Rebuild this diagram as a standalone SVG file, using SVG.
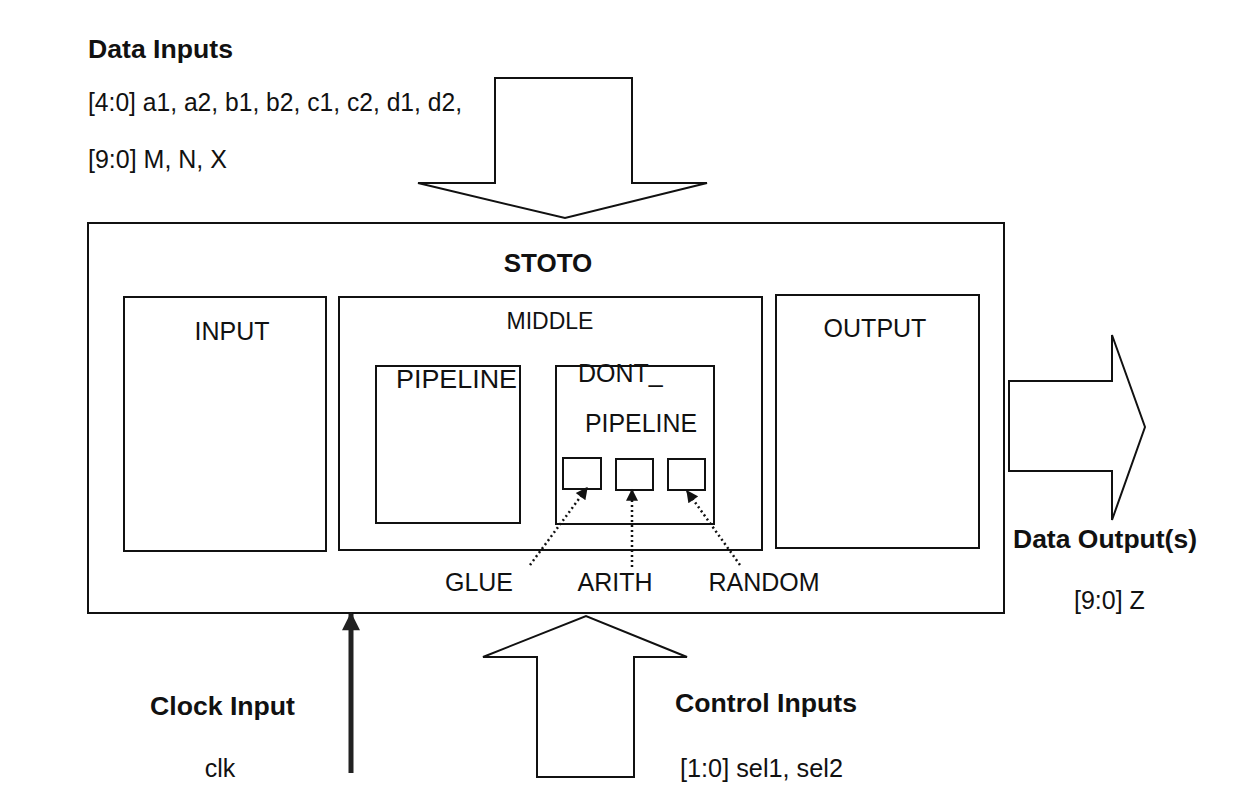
<svg xmlns="http://www.w3.org/2000/svg" width="1237" height="807" viewBox="0 0 1237 807">
<style>
.box{fill:none;stroke:#111;stroke-width:2}
.ar{fill:#fff;stroke:#111;stroke-width:2;stroke-linejoin:miter}
.t{font-family:"Liberation Sans",Arial,sans-serif;font-size:25px;fill:#111}
.b{font-weight:bold;font-size:26px}
.m{text-anchor:middle}
.dot{stroke:#111;stroke-width:2.5;stroke-dasharray:2 3;fill:none}
</style>
<defs>
<marker id="ah" viewBox="0 0 10 10" refX="9" refY="5" markerWidth="14" markerHeight="12" orient="auto" markerUnits="userSpaceOnUse">
<path d="M0,0 L10,5 L0,10 z" fill="#111"/>
</marker>
<marker id="ahd" viewBox="0 0 10 10" refX="9" refY="5" markerWidth="20" markerHeight="18" orient="auto" markerUnits="userSpaceOnUse">
<path d="M0,0 L10,5 L0,10 z" fill="#222"/>
</marker>
</defs>
<rect width="1237" height="807" fill="#fff"/>
<g id="labels">
<text class="t b" x="88" y="58" textLength="145" lengthAdjust="spacingAndGlyphs">Data Inputs</text>
<text class="t" x="88" y="111" textLength="374" lengthAdjust="spacingAndGlyphs">[4:0] a1, a2, b1, b2, c1, c2, d1, d2,</text>
<text class="t" x="88" y="168">[9:0] M, N, X</text>
<text class="t b" x="1013" y="548" textLength="184" lengthAdjust="spacingAndGlyphs">Data Output(s)</text>
<text class="t" x="1074" y="609">[9:0] Z</text>
<text class="t b" x="150" y="715" textLength="145" lengthAdjust="spacingAndGlyphs">Clock Input</text>
<text class="t m" x="220" y="777">clk</text>
<text class="t b" x="675" y="712" textLength="182" lengthAdjust="spacingAndGlyphs">Control Inputs</text>
<text class="t" x="680" y="777" textLength="163" lengthAdjust="spacingAndGlyphs">[1:0] sel1, sel2</text>
</g>
<g id="stoto">
<rect class="box" x="88" y="223" width="916" height="390"/>
<text class="t b m" x="548" y="272">STOTO</text>
</g>
<g id="input">
<rect class="box" x="124" y="297" width="202" height="254"/>
<text class="t m" x="232" y="340">INPUT</text>
</g>
<g id="middle">
<rect class="box" x="339" y="297" width="423" height="253"/>
<text class="t m" x="550" y="329" style="font-size:23px">MIDDLE</text>
</g>
<g id="pipeline">
<rect class="box" x="376" y="366" width="144" height="157"/>
<text class="t" x="396" y="388" textLength="121" lengthAdjust="spacingAndGlyphs">PIPELINE</text>
</g>
<g id="dont_pipeline">
<rect class="box" x="556" y="366" width="158" height="158"/>
<text class="t" x="578" y="382">DONT_</text>
<text class="t" x="585" y="432" textLength="112" lengthAdjust="spacingAndGlyphs">PIPELINE</text>
</g>
<g id="glue_box"><rect class="box" x="563" y="458" width="38" height="31"/></g>
<g id="arith_box"><rect class="box" x="616" y="459" width="37" height="31"/></g>
<g id="random_box"><rect class="box" x="668" y="459" width="37" height="31"/></g>
<g id="output">
<rect class="box" x="776" y="295" width="203" height="253"/>
<text class="t m" x="875" y="337">OUTPUT</text>
</g>
<g id="glue_label"><text class="t m" x="479" y="591">GLUE</text></g>
<g id="arith_label"><text class="t m" x="615" y="591">ARITH</text></g>
<g id="random_label"><text class="t m" x="764" y="591">RANDOM</text></g>
<g id="connectors">
<polygon class="ar" points="495,78 632,78 632,183 707,183 565,218 418,183 495,183"/>
<polygon class="ar" points="1009,381 1112,381 1112,335 1145,427 1112,520 1112,471 1009,471"/>
<polygon class="ar" points="537,777 634,777 634,657 687,657 586,616 483,657 537,657"/>
<line x1="351" y1="773" x2="351" y2="614" stroke="#222" stroke-width="5" marker-end="url(#ahd)"/>
<line class="dot" x1="530" y1="565" x2="587" y2="488" marker-end="url(#ah)"/>
<line class="dot" x1="632" y1="567" x2="632" y2="490" marker-end="url(#ah)"/>
<line class="dot" x1="740" y1="565" x2="687" y2="491" marker-end="url(#ah)"/>
</g>
</svg>
